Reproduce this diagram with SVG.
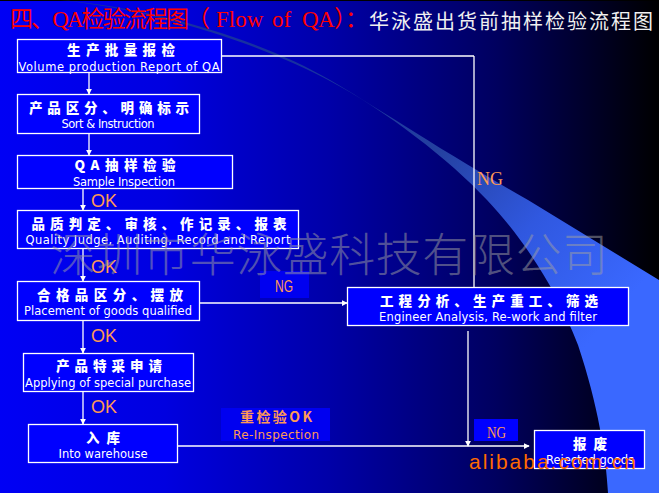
<svg xmlns="http://www.w3.org/2000/svg" width="659" height="493" viewBox="0 0 659 493">
<style>
.box{fill:#0000ff;stroke:#fff;stroke-width:1.3}
.cn{font-family:"Noto Sans CJK SC","Liberation Sans",sans-serif;font-weight:900;font-size:13.5px;fill:#fff;text-anchor:middle}
.en{font-family:"DejaVu Sans","Liberation Sans",sans-serif;font-size:11.5px;fill:#fff;text-anchor:middle}
.lbl{font-family:"Liberation Sans",sans-serif;font-size:18px;fill:#ff9955}
.ng{font-family:"Liberation Serif",serif;font-size:18px;fill:#ff9955}
.ttl{font-family:"Liberation Serif","Noto Sans CJK SC",serif;font-size:23px;fill:#ff0000}
.ln{stroke:#fff;stroke-width:1.3;fill:none}
.tag{fill:#0000f0}
</style>
<defs>
<linearGradient id="bg" x1="0" y1="0" x2="1" y2="0">
<stop offset="0" stop-color="#0000f5"/>
<stop offset="0.25" stop-color="#0000e0"/>
<stop offset="0.5" stop-color="#0000a8"/>
<stop offset="0.75" stop-color="#000060"/>
<stop offset="1" stop-color="#000000"/>
</linearGradient>
<linearGradient id="sw" gradientUnits="userSpaceOnUse" x1="300" y1="60" x2="600" y2="330">
<stop offset="0" stop-color="#1630a0"/>
<stop offset="0.4" stop-color="#24409f"/>
<stop offset="0.7" stop-color="#3058e0"/>
<stop offset="1" stop-color="#3a68ff"/>
</linearGradient>
<marker id="ar" viewBox="0 0 8 8" refX="7" refY="4" markerWidth="6" markerHeight="6" markerUnits="userSpaceOnUse" orient="auto"><path d="M0 0L8 4L0 8Z" fill="#fff"/></marker>
</defs>
<rect width="659" height="493" fill="url(#bg)"/>
<rect width="659" height="1" fill="#000"/>
<path d="M60 0C170 10 270 45 330 80C370 103 440 150 528 200L659 280V493H608C606 455 598 405 578 345C555 285 520 235 487 200C450 160 385 110 330 81C270 49 170 12 60 0Z" fill="url(#sw)"/>
<text class="ttl" x="10" y="27" textLength="200" lengthAdjust="spacing">四、QA检验流程图（</text>
<text class="ttl" x="216" y="27">Flow</text>
<text class="ttl" x="272" y="27">of</text>
<text class="ttl" x="302" y="27" textLength="66" lengthAdjust="spacing">QA）：</text>
<text x="369" y="29" font-family="'Noto Sans CJK SC',sans-serif" font-size="20" fill="#f0f0f0" textLength="284" lengthAdjust="spacing">华泳盛出货前抽样检验流程图</text>

<g id="connectors">
<path class="ln" d="M474 56H173" marker-end="url(#ar)"/>
<path class="ln" d="M474 56V287"/>
<path class="ln" d="M89 72V94" marker-end="url(#ar)"/>
<path class="ln" d="M89 133V155" marker-end="url(#ar)"/>
<path class="ln" d="M83 188V210" marker-end="url(#ar)"/>
<path class="ln" d="M83 248V281" marker-end="url(#ar)"/>
<path class="ln" d="M83 320V353" marker-end="url(#ar)"/>
<path class="ln" d="M83 391V424" marker-end="url(#ar)"/>
<path class="ln" d="M199 303H347" marker-end="url(#ar)"/>
<path class="ln" d="M468 331V446" marker-end="url(#ar)"/>
<path class="ln" d="M171 446H529" marker-end="url(#ar)"/>
</g>

<g id="n1"><rect class="box" x="17.500" y="39.500" width="204" height="33"/>
<text class="cn" x="121" y="55" textLength="108" lengthAdjust="spacing">生产批量报检</text>
<text class="en" x="119" y="71" textLength="201" lengthAdjust="spacing">Volume production Report of QA</text></g>
<g id="n2"><rect class="box" x="17.500" y="94.500" width="182" height="39"/>
<text class="cn" x="109" y="113" textLength="160" lengthAdjust="spacing">产品区分、明确标示</text>
<text class="en" x="108" y="128" textLength="93" lengthAdjust="spacing">Sort &amp; Instruction</text></g>
<g id="n3"><rect class="box" x="17.500" y="155.500" width="215" height="33"/>
<text class="cn" x="125" y="170" font-size="15" textLength="101" lengthAdjust="spacing">QA抽样检验</text>
<text class="en" x="124" y="186" textLength="102" lengthAdjust="spacing">Sample Inspection</text></g>
<g id="n4"><rect class="box" x="17.500" y="210.500" width="281" height="38"/>
<text class="cn" x="159" y="229" textLength="255" lengthAdjust="spacing">品质判定、审核、作记录、报表</text>
<text class="en" x="158" y="244" textLength="265" lengthAdjust="spacing">Quality Judge, Auditing, Record and Report</text></g>
<g id="n5"><rect class="box" x="17.500" y="281.500" width="182" height="39"/>
<text class="cn" x="110" y="300" textLength="146" lengthAdjust="spacing">合格品区分、摆放</text>
<text class="en" x="108" y="315" textLength="168" lengthAdjust="spacing">Placement of goods qualified</text></g>
<g id="n6"><rect class="box" x="347.500" y="287.500" width="281" height="38"/>
<text class="cn" x="489" y="306" textLength="218" lengthAdjust="spacing">工程分析、生产重工、筛选</text>
<text class="en" x="488" y="321" textLength="218" lengthAdjust="spacing">Engineer Analysis, Re-work and filter</text></g>
<g id="n7"><rect class="box" x="23.500" y="353.500" width="170" height="38"/>
<text class="cn" x="109" y="371" textLength="106" lengthAdjust="spacing">产品特采申请</text>
<text class="en" x="108" y="387" textLength="166" lengthAdjust="spacing">Applying of special purchase</text></g>
<g id="n8"><rect class="box" x="28.500" y="424.500" width="149" height="38"/>
<text class="cn" x="103" y="443" textLength="34" lengthAdjust="spacing">入库</text>
<text class="en" x="103" y="458" textLength="89" lengthAdjust="spacing">Into warehouse</text></g>
<g id="n9"><rect class="box" x="534.500" y="430.500" width="110" height="38"/>
<text class="cn" x="590" y="449" textLength="34" lengthAdjust="spacing">报废</text>
<text class="en" x="590" y="464" textLength="88" lengthAdjust="spacing">Rejected goods</text></g>

<g id="labels">
<text class="lbl" x="91" y="207">OK</text>
<text class="lbl" x="91" y="273">OK</text>
<text class="lbl" x="91" y="342">OK</text>
<text class="lbl" x="91" y="413">OK</text>
<text class="ng" x="477" y="185">NG</text>
<rect class="tag" x="260" y="271" width="49" height="27"/>
<text x="275" y="292" font-family="'Liberation Sans',sans-serif" font-size="17" fill="#ff9955" textLength="18" lengthAdjust="spacingAndGlyphs">NG</text>
<rect class="tag" x="221" y="408" width="109" height="33"/>
<text x="276" y="422" font-family="'Noto Sans CJK SC',sans-serif" font-size="14" font-weight="700" fill="#ff9955" text-anchor="middle" textLength="72" lengthAdjust="spacing">重检验OK</text>
<text x="276" y="439" font-family="'DejaVu Sans',sans-serif" font-size="12" fill="#ff9955" text-anchor="middle" textLength="86" lengthAdjust="spacing">Re-Inspection</text>
<rect x="474" y="419" width="44" height="22" fill="#0000ff"/>
<text x="487" y="438" font-family="'Liberation Serif',serif" font-size="17" fill="#ff9955" textLength="19" lengthAdjust="spacingAndGlyphs">NG</text>
</g>

<text x="50" y="271" font-family="'Noto Sans CJK SC',sans-serif" font-size="46" font-weight="300" fill="#a0a0a0" fill-opacity="0.5" textLength="558" lengthAdjust="spacing">深圳市华泳盛科技有限公司</text>
<text x="469" y="469" font-family="'Liberation Sans',sans-serif" font-size="21" fill="#ff6a00" textLength="167" lengthAdjust="spacing">alibaba.com.cn</text>
</svg>
